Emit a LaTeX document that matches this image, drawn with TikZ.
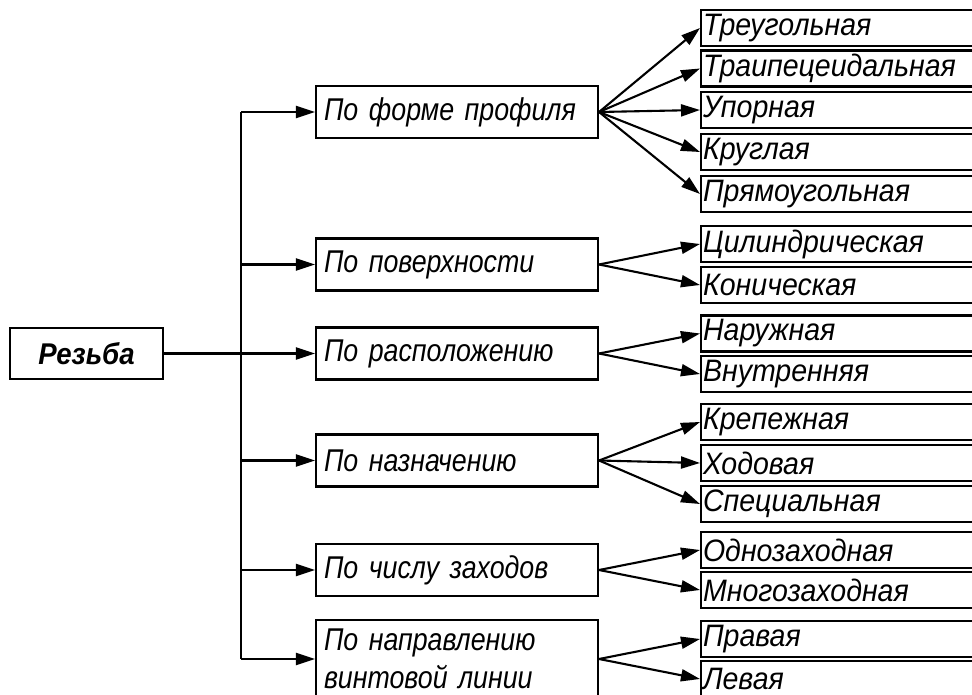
\documentclass[tikz,border=0pt]{standalone}
\usepackage{fontspec}
\setmainfont{Liberation Sans}[FakeStretch=0.92]
\newfontfamily\midfont{Liberation Sans}[FakeStretch=0.85]
\usetikzlibrary{arrows.meta}
\begin{document}
\begin{tikzpicture}[x=1pt,y=-1pt,
  every node/.style={font=\fontsize{31}{37}\selectfont\itshape},
  line/.style={line width=2.1pt},
  arr/.style={line width=2.1pt,-{Triangle[length=19pt,width=12pt]}},
  rbox/.style={draw,line width=2.1pt,anchor=west,text width=271pt,inner xsep=2pt,inner ysep=0pt,minimum height=36pt,align=left},
  mbox/.style={draw,line width=2.1pt,text width=266pt,inner xsep=8pt,inner ysep=0pt,minimum height=52pt,align=left,font=\midfont\fontsize{31.5}{38}\selectfont\itshape},
  rootbox/.style={draw,line width=2.1pt,minimum width=153pt,minimum height=51pt,inner sep=0pt,font=\fontsize{30}{36}\selectfont\bfseries\itshape}]
\clip (0,0) rectangle (972,695);
\fill[white] (0,0) rectangle (972,695);
% root
\node[rootbox] (root) at (86.5,353.5) {Резьба};
% middle
\node[mbox] (b1) at (457,112) {По форме профиля};
\node[mbox] (b2) at (457,264.5) {По поверхности};
\node[mbox] (b3) at (457,353.5) {По расположению};
\node[mbox] (b4) at (457,460.5) {По назначению};
\node[mbox] (b5) at (457,570) {По числу заходов};
\node[mbox,minimum height=78pt] (b6) at (457,659) {По направлению\\винтовой линии};
% right
\node[rbox] (r11) at (700,28) {Треугольная};
\node[rbox] (r12) at (700,68.5) {Траипецеидальная};
\node[rbox] (r13) at (700,110) {Упорная};
\node[rbox] (r14) at (700,152) {Круглая};
\node[rbox] (r15) at (700,194) {Прямоугольная};
\node[rbox] (r21) at (700,244) {Цилиндрическая};
\node[rbox] (r22) at (700,285) {Коническая};
\node[rbox] (r31) at (700,333.5) {Наружная};
\node[rbox] (r32) at (700,374) {Внутренняя};
\node[rbox] (r41) at (700,422) {Крепежная};
\node[rbox] (r42) at (700,463) {Ходовая};
\node[rbox] (r43) at (700,504) {Специальная};
\node[rbox] (r51) at (700,550) {Однозаходная};
\node[rbox] (r52) at (700,590) {Многозаходная};
\node[rbox] (r61) at (700,639) {Правая};
\node[rbox] (r62) at (700,679) {Левая};
% trunk
\coordinate (t) at (241,0);
\draw[line] (t |- b1.west) -- (t |- b6.west);
\draw[arr] (root.east) -- (b3.west);
\foreach \b in {b1,b2,b4,b5,b6}{\draw[arr] (t |- \b.west) -- (\b.west);}
% fans
\foreach \r in {r11,r12,r13,r14,r15}{\draw[arr] (b1.east) -- (\r.west);}
\foreach \r in {r21,r22}{\draw[arr] (b2.east) -- (\r.west);}
\foreach \r in {r31,r32}{\draw[arr] (b3.east) -- (\r.west);}
\foreach \r in {r41,r42,r43}{\draw[arr] (b4.east) -- (\r.west);}
\foreach \r in {r51,r52}{\draw[arr] (b5.east) -- (\r.west);}
\foreach \r in {r61,r62}{\draw[arr] (b6.east) -- (\r.west);}
\end{tikzpicture}
\end{document}
